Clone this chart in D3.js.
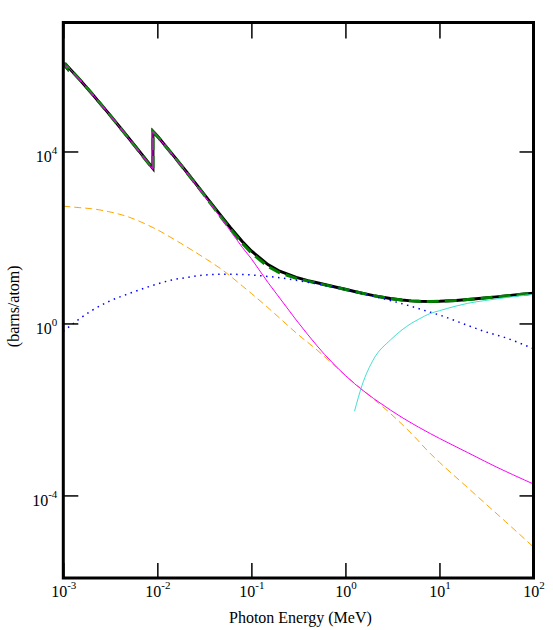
<!DOCTYPE html>
<html>
<head>
<meta charset="utf-8">
<script src="https://cdn.jsdelivr.net/npm/d3@7"></script>
<style>
  body { margin: 0; background: #fff; }
  svg { display: block; }
  .tick text { font-family: "Liberation Serif", "Times New Roman", serif; }
</style>
</head>
<body>
<div id="chart"></div>
<script>
/* Photon cross sections (barns/atom) against photon energy (MeV).
   Each series is a list of [energy, value] pairs; repeated energies are
   absorption edges. */

const totalWithCoherent = [
  [1e-3, 1.115e6], [1.0961e-3, 8.695e5], [1.0961e-3, 9.861e5], [1.5e-3, 4.661e5],
  [2e-3, 2.272e5], [3e-3, 7.90e4], [4e-3, 3.664e4], [5e-3, 2.003e4], [6e-3, 1.220e4],
  [8e-3, 5.544e3], [8.979e-3, 4.040e3], [8.979e-3, 2.937e4], [1e-2, 2.278e4],
  [1.5e-2, 7.812e3], [2e-2, 3.565e3], [3e-2, 1.152e3], [4e-2, 513], [5e-2, 275.7],
  [6e-2, 168], [8e-2, 80.5], [0.1, 48.4], [0.15, 23.4], [0.2, 16.4], [0.3, 11.8],
  [0.4, 9.93], [0.5, 8.82], [0.6, 8.04], [0.8, 6.97], [1, 6.23], [1.25, 5.55],
  [1.5, 5.07], [2, 4.44], [3, 3.80], [4, 3.50], [5, 3.35], [6, 3.28], [8, 3.24],
  [10, 3.27], [15, 3.43], [20, 3.60], [30, 3.89], [40, 4.15], [50, 4.36], [60, 4.54],
  [80, 4.82], [100, 5.04]
];

const totalWithoutCoherent = [
  [1e-3, 1.1145e6], [1.0961e-3, 8.690e5], [1.0961e-3, 9.856e5], [1.5e-3, 4.656e5],
  [2e-3, 2.267e5], [3e-3, 7.86e4], [4e-3, 3.63e4], [5e-3, 1.973e4], [6e-3, 1.194e4],
  [8e-3, 5.35e3], [8.979e-3, 3.87e3], [8.979e-3, 2.920e4], [1e-2, 2.263e4],
  [1.5e-2, 7.72e3], [2e-2, 3.50e3], [3e-2, 1.115e3], [4e-2, 487], [5e-2, 258.6],
  [6e-2, 155], [8e-2, 73], [0.1, 43.4], [0.15, 21.1], [0.2, 15.1], [0.3, 11.2],
  [0.4, 9.65], [0.5, 8.58], [0.6, 7.89], [0.8, 6.87], [1, 6.17], [1.25, 5.51],
  [1.5, 5.04], [2, 4.42], [3, 3.79], [4, 3.49], [5, 3.35], [6, 3.28], [8, 3.24],
  [10, 3.27], [15, 3.43], [20, 3.60], [30, 3.89], [40, 4.15], [50, 4.36], [60, 4.54],
  [80, 4.82], [100, 5.04]
];

const coherent = [
  [1e-3, 535], [1.5e-3, 493], [2e-3, 466], [3e-3, 401], [5e-3, 297], [8e-3, 192],
  [1e-2, 151], [1.5e-2, 91], [2e-2, 62.5], [3e-2, 36], [5e-2, 17.1], [8e-2, 7.47],
  [0.1, 4.99], [0.15, 2.33], [0.2, 1.33], [0.3, 0.60], [0.5, 0.24], [0.8, 0.0957],
  [1, 0.0614], [1.5, 0.0292], [2, 0.0173], [3, 8.1e-3], [5, 2.79e-3], [8, 9.4e-4],
  [10, 5.9e-4], [20, 1.51e-4], [30, 6.8e-5], [50, 2.5e-5], [100, 6.3e-6]
];

const incoherent = [
  [1e-3, 0.65], [1.5e-3, 1.30], [2e-3, 1.98], [3e-3, 3.2], [5e-3, 4.95], [8e-3, 7.1],
  [1e-2, 8.3], [1.5e-2, 10.5], [2e-2, 11.6], [3e-2, 13.2], [5e-2, 13.9], [8e-2, 13.8],
  [0.1, 13.4], [0.15, 12.4], [0.2, 11.6], [0.3, 10.1], [0.5, 8.3], [0.8, 6.8],
  [1, 6.11], [1.5, 4.96], [2, 4.26], [3, 3.42], [5, 2.5], [8, 1.82], [10, 1.57],
  [20, 0.90], [30, 0.653], [50, 0.468], [100, 0.257]
];

const photoelectric = [
  [1e-3, 1.114e6], [1.0961e-3, 8.69e5], [1.0961e-3, 9.856e5], [1.5e-3, 4.655e5],
  [2e-3, 2.267e5], [3e-3, 7.86e4], [4e-3, 3.63e4], [5e-3, 1.973e4], [6e-3, 1.194e4],
  [8e-3, 5.345e3], [8.979e-3, 3.862e3], [8.979e-3, 2.919e4], [1e-2, 2.262e4],
  [1.5e-2, 7.71e3], [2e-2, 3.49e3], [3e-2, 1.10e3], [4e-2, 475], [5e-2, 245],
  [6e-2, 141], [8e-2, 59], [0.1, 32], [0.15, 9.0], [0.2, 3.9], [0.3, 1.2],
  [0.4, 0.543], [0.5, 0.301], [0.6, 0.1905], [0.8, 0.0984], [1, 0.0615], [1.25, 0.0398],
  [1.5, 0.0287], [2, 0.01786], [3, 9.73e-3], [4, 6.5e-3], [5, 4.86e-3], [6, 3.87e-3],
  [8, 2.74e-3], [10, 2.12e-3], [15, 1.355e-3], [20, 9.9e-4], [30, 6.31e-4],
  [40, 4.62e-4], [50, 3.67e-4], [60, 3.05e-4], [80, 2.29e-4], [100, 1.84e-4]
];

const pairNuclear = [
  [1.25, 0.0091], [1.5, 0.036], [2, 0.149], [3, 0.41], [4, 0.71], [5, 1.0],
  [6, 1.25], [8, 1.71], [10, 1.98], [15, 2.54], [20, 2.94], [30, 3.40],
  [50, 3.98], [80, 4.50], [100, 4.78]
];

const xTicks = [1e-3, 1e-2, 1e-1, 1e0, 1e1, 1e2];
const yTicks = [1e-4, 1e0, 1e4];

const width = 553, height = 630;
const plot = { left: 63.3, right: 533.5, top: 22.5, bottom: 578 };
const serif = "'Liberation Serif', 'Times New Roman', serif";

/* Log scales for both axes. */
let x = d3.scaleLog()
    .domain([1e-3, 1e2])
    .range([plot.left, plot.right]);
let y = d3.scaleLog()
    .domain([1.2e-6, 1e7])
    .range([plot.bottom, plot.top]);

let svg = d3.select("#chart").append("svg")
    .attr("width", width)
    .attr("height", height);

svg.append("rect")
    .attr("width", width)
    .attr("height", height)
    .attr("fill", "#fff");

svg.append("clipPath")
    .attr("id", "plot-clip")
  .append("rect")
    .attr("x", plot.left)
    .attr("y", plot.top)
    .attr("width", plot.right - plot.left)
    .attr("height", plot.bottom - plot.top);

let line = d3.line()
    .x(d => x(d[0]))
    .y(d => y(d[1]));

let smooth = d3.line()
    .curve(d3.curveMonotoneX)
    .x(d => x(d[0]))
    .y(d => y(d[1]));

let curves = svg.append("g").attr("clip-path", "url(#plot-clip)");

/* Series, bottom to top. */
let series = [
  { data: totalWithCoherent, gen: line, color: "#000000", w: 3, dash: null },
  { data: totalWithoutCoherent, gen: line, color: "#008000", w: 3, dash: "12,6" },
  { data: coherent, gen: smooth, color: "#ffa500", w: 1, dash: "7,4" },
  { data: incoherent, gen: smooth, color: "#0000ff", w: 1.5, dash: "1.5,4.5" },
  { data: photoelectric, gen: line, color: "#ff00ff", w: 1, dash: null },
  { data: pairNuclear, gen: smooth, color: "#40e0d0", w: 1, dash: null }
];

series.forEach(s => {
  curves.append("path")
      .attr("d", s.gen(s.data))
      .attr("fill", "none")
      .attr("stroke", s.color)
      .attr("stroke-width", s.w)
      .attr("stroke-dasharray", s.dash);
});

/* Write "10" with the exponent raised. */
function powerLabel(sel) {
  sel.each(function(d) {
    let t = d3.select(this);
    let e = Math.round(Math.log10(d));
    t.text(null);
    t.append("tspan").text("10");
    t.append("tspan")
        .attr("dy", -8)
        .attr("font-size", 11)
        .text(e);
  });
}

let bottomAxis = svg.append("g")
    .attr("transform", "translate(0," + plot.bottom + ")")
    .call(d3.axisBottom(x).tickValues(xTicks).tickSizeInner(-15).tickSizeOuter(0));
bottomAxis.selectAll(".tick text")
    .attr("y", 19)
    .attr("dy", 0)
    .attr("font-size", 16)
    .call(powerLabel);

let leftAxis = svg.append("g")
    .attr("transform", "translate(" + plot.left + ",0)")
    .call(d3.axisLeft(y).tickValues(yTicks).tickSizeInner(-15).tickSizeOuter(0));
leftAxis.selectAll(".tick text")
    .attr("x", -6)
    .attr("y", 10)
    .attr("dy", 0)
    .attr("font-size", 16)
    .call(powerLabel);

svg.append("g")
    .attr("transform", "translate(0," + plot.top + ")")
    .call(d3.axisTop(x).tickValues(xTicks).tickSizeInner(-16).tickSizeOuter(0).tickFormat(""));

svg.append("g")
    .attr("transform", "translate(" + plot.right + ",0)")
    .call(d3.axisRight(y).tickValues(yTicks).tickSizeInner(-14).tickSizeOuter(0).tickFormat(""));

svg.selectAll(".domain").remove();
svg.selectAll(".tick line").attr("stroke-width", 1.5);

/* Heavy frame round the plot. */
svg.append("rect")
    .attr("x", plot.left)
    .attr("y", plot.top)
    .attr("width", plot.right - plot.left)
    .attr("height", plot.bottom - plot.top)
    .attr("fill", "none")
    .attr("stroke", "#000")
    .attr("stroke-width", 3);

svg.append("text")
    .attr("x", (plot.left + plot.right) / 2 + 2)
    .attr("y", 623)
    .attr("text-anchor", "middle")
    .attr("font-family", serif)
    .attr("font-size", 16)
    .text("Photon Energy (MeV)");

svg.append("text")
    .attr("transform", "translate(19," + ((plot.top + plot.bottom) / 2 + 6) + ") rotate(-90)")
    .attr("text-anchor", "middle")
    .attr("font-family", serif)
    .attr("font-size", 16)
    .text("(barns/atom)");
</script>
</body>
</html>
